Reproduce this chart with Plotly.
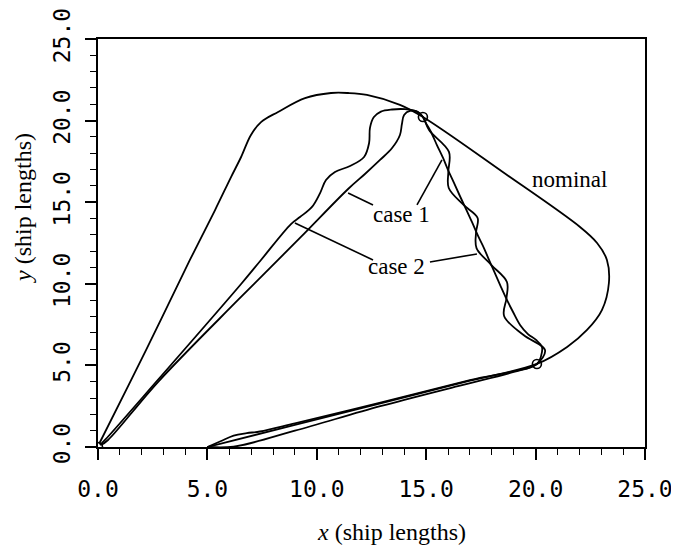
import plotly.graph_objects as go

# ---------------- data (ship lengths) ----------------
nominal_x = [5.0, 9.0, 13.0, 17.0, 20.06, 21.44, 22.35, 23.03, 23.35, 23.26, 22.81, 22.03,
             18.5, 14.85, 13.8, 12.29, 11.43, 10.65, 9.46, 8.23, 7.45, 6.99, 6.54, 6.08,
             5.35, 4.2, 2.2, 0.14, 0.05]
nominal_y = [0.0, 1.35, 2.7, 4.06, 5.09, 6.13, 7.17, 8.39, 10.05, 11.46, 12.5, 13.48,
             16.85, 20.22, 20.96, 21.57, 21.69, 21.69, 21.38, 20.53, 19.91, 19.12, 17.77, 16.54,
             14.52, 11.46, 5.95, 0.43, 0.2]

case1_x = [5.0, 5.6, 6.2, 6.8, 7.4, 9.0, 13.0, 17.0, 20.06,
           20.25, 20.29, 20.02, 19.65, 19.29, 18.97, 18.69, 18.42, 18.14, 17.87, 17.64,
           17.37, 17.09, 16.82, 16.54, 16.27, 16.0, 15.77, 15.49, 15.22, 14.99, 14.85,
           14.63, 14.26, 13.99, 13.89, 13.8, 13.44, 12.89, 12.2, 11.43, 9.23, 6.4, 2.74,
           0.46, 0.14]
case1_y = [0.0, 0.35, 0.7, 0.85, 0.95, 1.45, 2.75, 4.1, 5.09,
           5.58, 6.13, 6.56, 6.92, 7.48, 8.27, 9.01, 9.8, 10.66, 11.46, 12.19,
           12.93, 13.79, 14.58, 15.38, 16.18, 16.97, 17.71, 18.5, 19.3, 19.85, 20.22,
           20.53, 20.59, 20.34, 19.79, 19.12, 18.32, 17.59, 16.73, 15.81, 12.81, 9.01, 3.98,
           0.43, 0.12]

case2_x = [5.0, 6.2, 9.0, 12.9, 16.5, 19.0, 20.06,
           20.43, 19.45, 18.56, 18.67, 18.69, 17.98, 17.3, 17.28, 17.35, 16.71, 16.03,
           16.01, 16.04, 15.13, 14.85,
           14.58, 14.03, 13.44, 12.93, 12.6, 12.43, 12.39, 12.16, 11.52, 10.83, 10.42,
           10.15, 9.78, 9.23, 8.82, 7.45, 6.54, 2.61, 0.32, 0.09]
case2_y = [0.0, 0.02, 1.0, 2.5, 3.75, 4.6, 5.09,
           5.94, 6.86, 8.03, 9.13, 10.11, 11.15, 12.19, 13.17, 14.03, 14.83, 15.87,
           16.85, 18.08, 19.42, 20.22,
           20.55, 20.7, 20.68, 20.55, 20.2, 19.55, 18.63, 17.77, 17.22, 16.85, 16.36,
           15.56, 14.71, 14.09, 13.66, 11.46, 9.99, 3.92, 0.43, 0.12]

waypoint_x = [0.0, 14.85, 20.06]
waypoint_y = [0.0, 20.22, 5.09]

tick_vals = [0, 5, 10, 15, 20, 25]
tick_text = ["0.0", "5.0", "10.0", "15.0", "20.0", "25.0"]

labels = ["nominal", "case 1", "case 2"]
label_x = [21.57, 13.85, 13.62]
label_y = [16.42, 14.22, 11.03]

# ---------------- figure ----------------
fig = go.Figure()
for xs, ys in [(nominal_x, nominal_y), (case1_x, case1_y), (case2_x, case2_y)]:
    fig.add_trace(go.Scatter(x=xs, y=ys, mode="lines",
                             line=dict(color="black", width=1.8, shape="spline", smoothing=1.0),
                             hoverinfo="skip", showlegend=False))

fig.add_trace(go.Scatter(x=waypoint_x, y=waypoint_y, mode="markers",
                         marker=dict(symbol="circle-open", size=9, color="black",
                                     line=dict(width=1.6, color="black")),
                         hoverinfo="skip", showlegend=False))

serif = "Liberation Serif"
for t, lx, ly in zip(labels, label_x, label_y):
    fig.add_annotation(x=lx, y=ly, text=t, showarrow=False,
                       font=dict(family=serif, size=23, color="black"))

# leader lines
leaders = [
    (11.43, 15.56, 12.57, 14.83),
    (14.58, 14.83, 15.72, 17.59),
    (9.0, 13.73, 12.57, 11.46),
    (15.17, 11.34, 17.32, 11.83),
]
for x0, y0, x1, y1 in leaders:
    fig.add_shape(type="line", x0=x0, y0=y0, x1=x1, y1=y1, xref="x", yref="y",
                  line=dict(color="black", width=1.6))

axis_common = dict(
    range=[0, 25], tickmode="array", tickvals=tick_vals, ticktext=tick_text,
    ticks="outside", ticklen=11, tickwidth=1.8, tickcolor="black",
    minor=dict(dtick=1, ticks="outside", ticklen=6, tickwidth=1.4, tickcolor="black"),
    showline=True, linecolor="black", linewidth=2, mirror=True,
    showgrid=False, zeroline=False, ticklabeloverflow="allow",
    tickfont=dict(family="DejaVu Sans Mono", size=23, color="black"),
)

fig.update_xaxes(**axis_common, ticklabelstandoff=9)
fig.update_yaxes(**axis_common, tickangle=-90, ticklabelstandoff=6)

fig.add_annotation(xref="paper", yref="paper", x=0.537, y=-0.208,
                   text="<i>x</i> (ship lengths)", showarrow=False,
                   font=dict(family=serif, size=24, color="black"),
                   xanchor="center", yanchor="middle")
fig.add_annotation(xref="paper", yref="paper", x=-0.137, y=0.586,
                   text="<i>y</i> (ship lengths)", showarrow=False, textangle=-90,
                   font=dict(family=serif, size=24, color="black"),
                   xanchor="center", yanchor="middle")

# page body adds an 8 px margin, so the figure is 8 px smaller on each axis
fig.update_layout(
    width=671, height=544,
    margin=dict(l=90, r=34, t=31, b=105, autoexpand=False),
    plot_bgcolor="white", paper_bgcolor="white",
    showlegend=False,
)

fig.write_html("out.html")
